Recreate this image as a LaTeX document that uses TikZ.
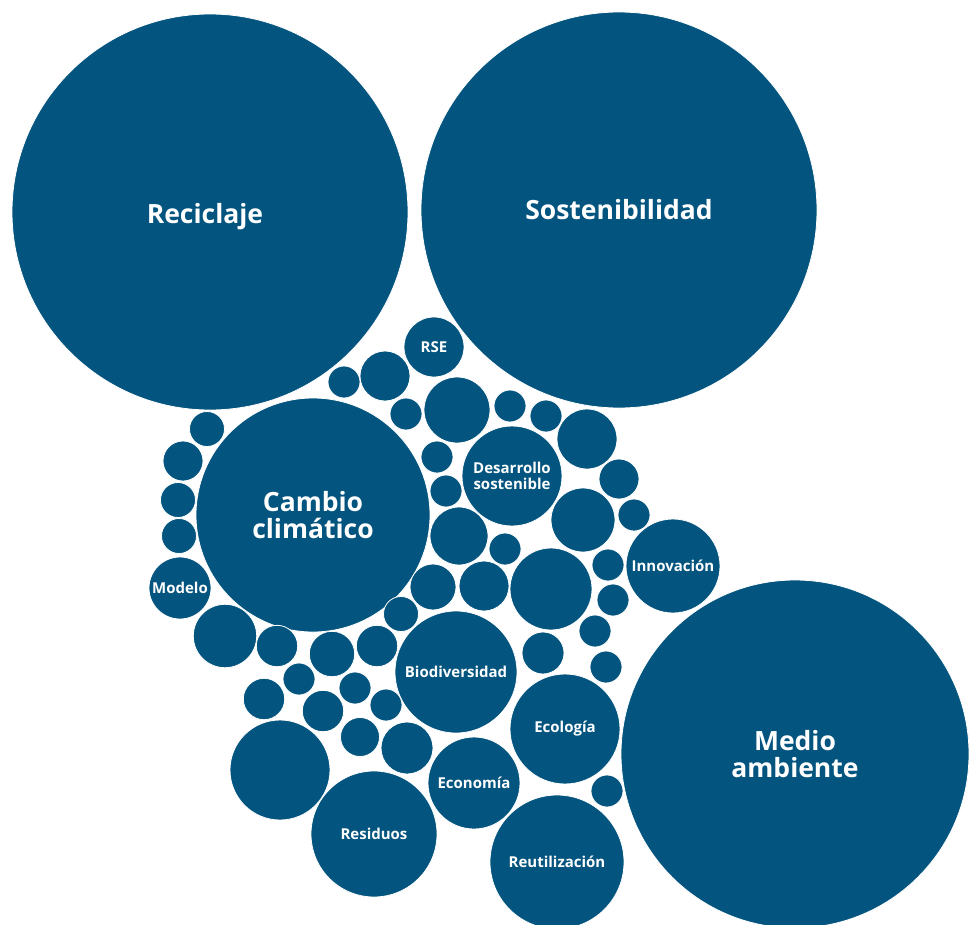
\documentclass[tikz,border=0pt]{standalone}
\usepackage{fontspec}
\setmainfont{Open Sans}
\usepackage{tikz}
\definecolor{bubblue}{RGB}{3,84,126}
\tikzset{bubble/.style={circle, fill=bubblue, draw=white, line width=0.8pt,
                        text=white, inner sep=0pt, align=center},
         bigtag/.style={font=\fontsize{26.5}{27}\selectfont\bfseries},
         smalltag/.style={font=\fontsize{15}{16.5}\selectfont\bfseries}}

\begin{document}
\begin{tikzpicture}[x=1pt, y=-1pt]
    \useasboundingbox (0,0) rectangle (969,924);
    % large topics
    \node[bubble, minimum size=396pt] (recic) at (210,212) {};
    \node[text=white, bigtag] (recictext) at (205,217) {Reciclaje};
    \node[bubble, bigtag, minimum size=396pt, yshift=-2pt] (sosten) at (619,208) {Sostenibilidad};
    \node[bubble, bigtag, minimum size=348pt, yshift=-2pt] (medio) at (795,752) {Medio\\ambiente};
    \node[bubble, bigtag, minimum size=234pt, yshift=-2pt] (cambio) at (313,513) {Cambio\\clim\'atico};
    % medium topics
    \node[bubble, smalltag, minimum size=60pt] (rse) at (434,347) {RSE};
    \node[bubble, smalltag, minimum size=100pt] (desarr) at (512,476) {Desarrollo\\sostenible};
    \node[bubble, smalltag, minimum size=94pt] (innov) at (673,566) {Innovaci\'on};
    \node[bubble, smalltag, minimum size=62pt] (modelo) at (180,588) {Modelo};
    \node[bubble, smalltag, minimum size=122pt] (biodiv) at (456,672) {Biodiversidad};
    \node[bubble, smalltag, minimum size=110pt] (ecolog) at (565,729) {Ecolog\'ia};
    \node[bubble, smalltag, minimum size=92pt] (econom) at (474,783) {Econom\'ia};
    \node[bubble, smalltag, minimum size=126pt] (resid) at (374,834) {Residuos};
    \node[bubble, smalltag, minimum size=134pt] (reutil) at (557,862) {Reutilizaci\'on};
    % unlabeled bubbles
    \foreach \cx/\cy/\r [count=\i] in {344/382/16, 385/376/25, 406/414/16, 457/410/33,
            510/406/16, 546/416/16, 587/439/30, 437/457/16, 446/491/16, 619/479/20,
            634/515/16, 583/520/32, 459/536/29, 505/549/16, 551/589/41, 608/565/16,
            613/600/16, 484/586/25, 433/587/23, 401/614/17.5, 595/631/16, 543/653/21,
            606/667/16, 607/791/16, 207/429/17.5, 183/461/20, 178/500/17.5, 179/536/17.5,
            225/636/31.7, 277/646/20.7, 332/654/22.7, 377/646/20.7, 299/679/16,
            355/688/16, 264/699/20.7, 323/711/20.7, 386/705/16, 360/737/19.5,
            407/748/26, 280/770/50}
        \node[bubble, minimum size={2*\r*1pt}] (dot\i) at (\cx,\cy) {};
\end{tikzpicture}
\end{document}
